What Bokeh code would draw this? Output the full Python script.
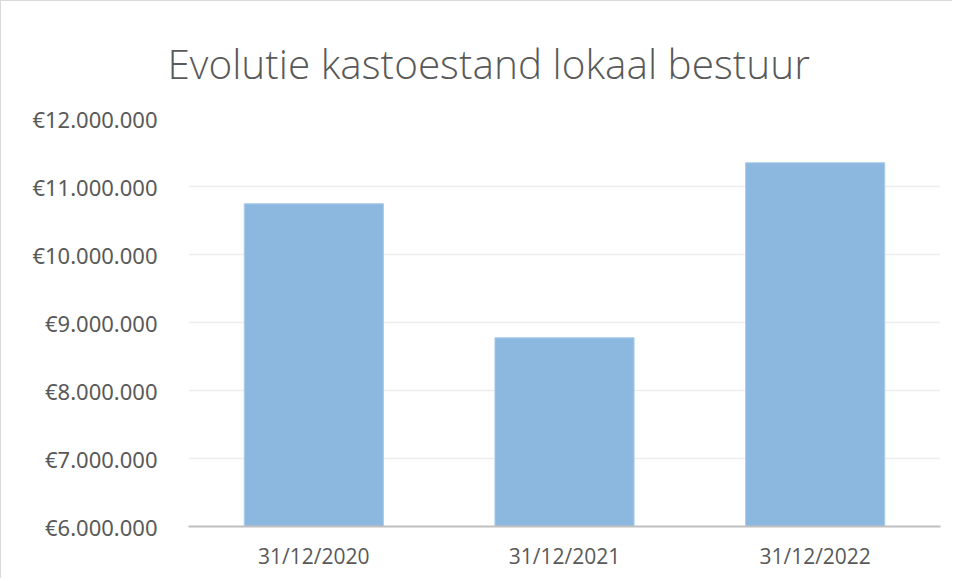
from bokeh.plotting import figure
from bokeh.models import FactorRange, Range1d, FixedTicker, ColumnDataSource
from bokeh.embed import file_html
from bokeh.resources import INLINE

title_text = "Evolutie kastoestand lokaal bestuur"
categories = ["31/12/2020", "31/12/2021", "31/12/2022"]
values = [10746000, 8775000, 11349000]
y_ticks = [6000000, 7000000, 8000000, 9000000, 10000000, 11000000, 12000000]
y_tick_labels = ["€6.000.000", "€7.000.000", "€8.000.000", "€9.000.000",
                 "€10.000.000", "€11.000.000", "€12.000.000"]

y_start, y_end = y_ticks[0], y_ticks[-1]

src = ColumnDataSource(dict(cat=categories, val=values))

p = figure(x_range=FactorRange(*categories, range_padding=0),
           y_range=Range1d(y_start, y_end),
           frame_width=752, frame_height=408,
           min_border_left=187, min_border_right=12, min_border_bottom=52,
           min_border_top=117,
           output_backend="svg", toolbar_location=None, title=title_text)

p.title.align = "left"
p.title.offset = -21
p.title.text_font = "Open Sans Light"
p.title.text_font_size = "40.5px"
p.title.text_font_style = "normal"
p.title.text_color = "#595959"
p.title.standoff = 56

p.vbar(x="cat", top="val", bottom=y_start, width=0.555, source=src,
       fill_color="#8CB8E0", line_color="#A9CBEA", line_width=1)

p.yaxis.ticker = FixedTicker(ticks=y_ticks)
p.yaxis.major_label_overrides = {t: l for t, l in zip(y_ticks, y_tick_labels)}
p.yaxis.axis_line_color = None
p.yaxis.major_tick_line_color = None
p.yaxis.minor_tick_line_color = None
p.yaxis.major_label_standoff = 25
p.yaxis.major_label_text_font = "Noto Sans"
p.yaxis.major_label_text_font_size = "22px"
p.yaxis.major_label_text_color = "#595959"

p.xaxis.axis_line_color = "#BFBFBF"
p.xaxis.axis_line_width = 2
p.xaxis.major_tick_line_color = None
p.xaxis.minor_tick_line_color = None
p.xaxis.major_label_standoff = 9
p.xaxis.major_label_text_font = "Open Sans"
p.xaxis.major_label_text_font_size = "21px"
p.xaxis.major_label_text_color = "#595959"

p.xgrid.grid_line_color = None
p.ygrid.grid_line_color = "#EDEDED"
p.ygrid.grid_line_width = 1.5
p.outline_line_color = None
p.styles = {"border-left": "1px solid #D9D9D9", "border-top": "1px solid #D9D9D9"}

open("out.html", "w").write(file_html(p, INLINE))
